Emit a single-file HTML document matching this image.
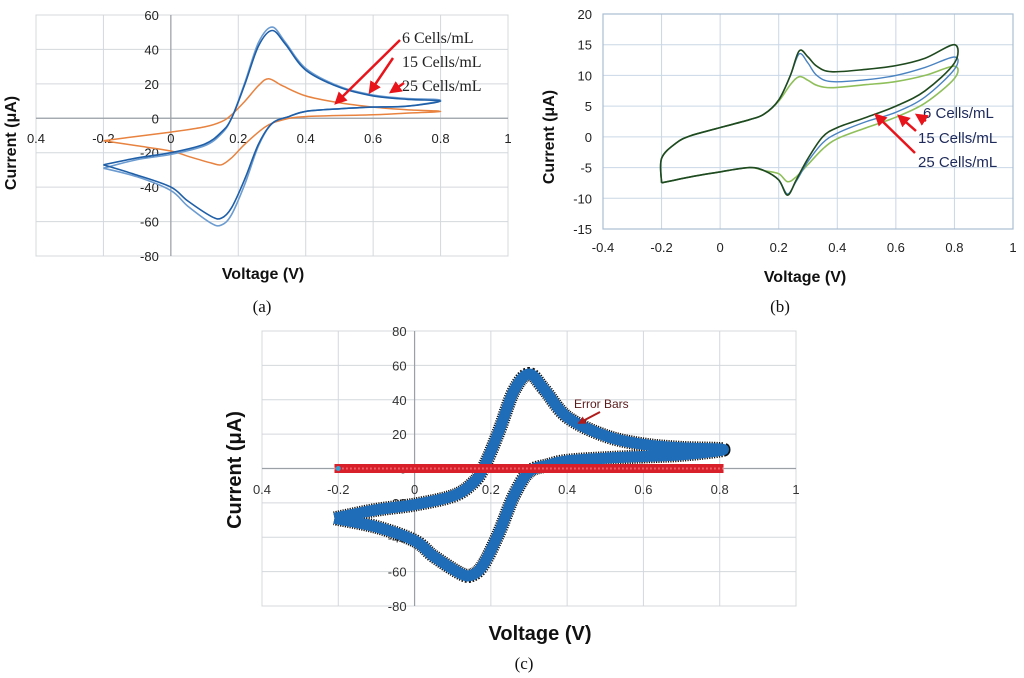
<!DOCTYPE html>
<html><head><meta charset="utf-8">
<style>
html,body{margin:0;padding:0;background:#fff;}
svg{display:block;}
text{font-family:"Liberation Sans",sans-serif;}
text.serif{font-family:"Liberation Serif",serif;}
</style></head>
<body>
<svg id="fig" width="1024" height="678" viewBox="0 0 1024 678" xmlns="http://www.w3.org/2000/svg">
<defs>
<marker id="arr" viewBox="0 0 10 10" refX="8" refY="5" markerWidth="5" markerHeight="5" orient="auto"><path d="M0,0 L10,5 L0,10 z" fill="#e8141c"/></marker>
<marker id="arr2" viewBox="0 0 10 10" refX="8" refY="5" markerWidth="4" markerHeight="4" orient="auto"><path d="M0,0 L10,5 L0,10 z" fill="#b01c1c"/></marker>
</defs>
</svg>
<script>
// ---------- Panel A data ----------
const aXTicks = [-0.4,-0.2,0,0.2,0.4,0.6,0.8,1];
const aXTickLabels = ["0.4","-0.2","0","0.2","0.4","0.6","0.8","1"];
const aYTicks = [60,40,20,0,-20,-40,-60,-80];
const a6V = [-0.2,-0.1,0,0.1,0.15,0.18,0.22,0.26,0.3,0.34,0.4,0.5,0.6,0.7,0.8,0.7,0.6,0.5,0.4,0.35,0.3,0.26,0.22,0.18,0.15,0.12,0.05,0,-0.1,-0.2];
const a6I = [-27,-23,-20,-15,-8,0,20,42,51,43,28,18,13,11,10,7,6.5,5.5,4,1,-3,-15,-35,-52,-58,-57,-48,-40,-33,-27];
const a15V = a6V;
const a15I = [-29,-24,-21,-16,-9,0,21,44,53,44,29,18.5,13.5,11.5,10.5,7,6.5,5.5,4,1,-3,-16,-38,-56,-62,-61,-51,-42,-34,-29];
const a25V = [-0.2,-0.1,0,0.1,0.15,0.18,0.22,0.26,0.29,0.33,0.4,0.5,0.6,0.7,0.8,0.7,0.6,0.4,0.33,0.28,0.22,0.18,0.15,0.12,0.05,0,-0.1,-0.2];
const a25I = [-13,-10.5,-8,-5,-2,2,10,19,23,19,13,9,6.5,5,4,3,2,1,-1,-5,-15,-23,-27,-26,-22,-19,-16,-13];

// ---------- Panel B data ----------
const bXTicks = [-0.4,-0.2,0,0.2,0.4,0.6,0.8,1];
const bYTicks = [20,15,10,5,0,-5,-10,-15];
const bV = [-0.2,-0.2,-0.15,-0.1,0,0.1,0.15,0.2,0.24,0.27,0.3,0.33,0.38,0.5,0.6,0.7,0.8,0.8,0.7,0.6,0.5,0.4,0.35,0.3,0.26,0.23,0.2,0.15,0.1,0,-0.1,-0.2];
const b6I = [-7.5,-3.5,-1,0.2,1.5,2.8,3.7,6,10,14,13,11.5,10.6,11,11.6,12.8,15,12,7.5,5,3.2,1.5,0,-3.5,-7,-9.5,-7,-5.5,-5,-5.7,-6.5,-7.5];
const b15I = [-7.5,-3.5,-1,0.2,1.5,2.8,3.7,6,10,13.5,12,10,9,9.3,10,11.3,13,11,6.5,4,2.5,0.6,-1,-4,-7.2,-9.3,-7,-5.5,-5,-5.7,-6.5,-7.5];
const b25I = [-7.5,-3.5,-1,0.2,1.5,2.8,3.7,5.8,8.5,9.8,9.2,8.4,8,8.5,9,10,11.5,9.5,5.5,3.2,1.5,-0.3,-2,-4.5,-6.5,-7.3,-6,-5.5,-5,-5.7,-6.5,-7.5];

// ---------- Panel C data ----------
const cXTicks = [-0.4,-0.2,0,0.2,0.4,0.6,0.8,1];
const cXTickLabels = ["0.4","-0.2","0","0.2","0.4","0.6","0.8","1"];
const cYTicks = [80,60,40,20,0,-20,-40,-60,-80];
const cV = [-0.21,-0.1,0,0.1,0.15,0.18,0.22,0.26,0.3,0.34,0.4,0.5,0.6,0.7,0.81,0.7,0.6,0.5,0.4,0.35,0.3,0.26,0.22,0.18,0.15,0.12,0.05,0,-0.1,-0.21];
const cI = [-29,-24,-21,-16,-9,0,21,45,55,46,30,19,14,12,11,8,7,6,4.5,2,-2,-16,-38,-56,-62,-61,-51,-42,-34,-29];
const cErrV = [-0.21,0.81];
const cErrI = [0,0];

const NS="http://www.w3.org/2000/svg";
const svg=document.getElementById('fig');
function mk(tag,attrs,parent){const e=document.createElementNS(NS,tag);for(const k in attrs)e.setAttribute(k,attrs[k]);(parent||svg).appendChild(e);return e;}
function smooth(pts){let d="M"+pts[0][0].toFixed(1)+","+pts[0][1].toFixed(1);
 for(let i=0;i<pts.length-1;i++){const p0=pts[Math.max(i-1,0)],p1=pts[i],p2=pts[i+1],p3=pts[Math.min(i+2,pts.length-1)];
  const c1=[p1[0]+(p2[0]-p0[0])/6,p1[1]+(p2[1]-p0[1])/6],c2=[p2[0]-(p3[0]-p1[0])/6,p2[1]-(p3[1]-p1[1])/6];
  d+=" C"+c1[0].toFixed(1)+","+c1[1].toFixed(1)+" "+c2[0].toFixed(1)+","+c2[1].toFixed(1)+" "+p2[0].toFixed(1)+","+p2[1].toFixed(1);}
 return d;}
function axis(x0,x1,y0,y1,vmin,vmax,imin,imax){return{x:v=>x0+(v-vmin)/(vmax-vmin)*(x1-x0),y:i=>y0+(imax-i)/(imax-imin)*(y1-y0)};}
function curve(g,ax,V,I,attrs,name){const p=mk('path',Object.assign({d:smooth(V.map((v,k)=>[ax.x(v),ax.y(I[k])])),fill:'none'},attrs),g);
 
 return p;}
function txt(g,x,y,s,attrs,name){const t=mk('text',Object.assign({x:x,y:y},attrs),g);t.textContent=s;
 
 return t;}

// ===== Panel A =====
(function(){
 const g=mk('g',{});
 
 
 const ax=axis(36,508,15,256,-0.4,1,-80,60);
 mk('rect',{x:36,y:15,width:472,height:241,fill:'none',stroke:'#d4d8dc','stroke-width':1},g);
 aXTicks.forEach(v=>mk('line',{x1:ax.x(v),x2:ax.x(v),y1:15,y2:256,stroke:'#d4d8dc'},g));
 aYTicks.forEach(i=>mk('line',{x1:36,x2:508,y1:ax.y(i),y2:ax.y(i),stroke:'#d4d8dc'},g));
 mk('line',{x1:ax.x(0),x2:ax.x(0),y1:15,y2:256,stroke:'#9aa0a6','stroke-width':1.2},g);
 mk('line',{x1:36,x2:508,y1:ax.y(0),y2:ax.y(0),stroke:'#9aa0a6','stroke-width':1.2},g);
 aXTicks.forEach((v,k)=>txt(g,ax.x(v),143,aXTickLabels[k],{'font-size':13,'text-anchor':'middle',fill:'#222'},'x-tick-label'));
 aYTicks.forEach(i=>txt(g,ax.x(0)-12,ax.y(i)+5,String(i),{'font-size':13,'text-anchor':'end',fill:'#222'},'y-tick-label'));
 curve(g,ax,a25V,a25I,{stroke:'#e8823f','stroke-width':1.5},'series-orange');
 curve(g,ax,a15V,a15I,{stroke:'#6b9bd0','stroke-width':1.6},'series-light-blue');
 curve(g,ax,a6V,a6I,{stroke:'#1f5fa8','stroke-width':1.6},'series-dark-blue');
 txt(g,16,143,'Current (\u03bcA)',{'font-size':16,'font-weight':'bold','text-anchor':'middle',transform:'rotate(-90 16 143)',fill:'#111'},'y-axis-title');
 txt(g,263,279,'Voltage (V)',{'font-size':16,'font-weight':'bold','text-anchor':'middle',fill:'#111'},'x-axis-title');
 txt(g,262,312,'(a)',{'font-size':17,'text-anchor':'middle','class':'serif',fill:'#111'},'panel-label-a');
 const lab={'font-size':16,'class':'serif',fill:'#222'};
 txt(g,402,43,'6  Cells/mL',lab,'annotation-6-cells');
 txt(g,402,67,'15 Cells/mL',lab,'annotation-15-cells');
 txt(g,402,91,'25 Cells/mL',lab,'annotation-25-cells');
 [[400,40,336,103],[393,58,370,92],[404,83,391,92]].forEach(a=>{const l=mk('line',{x1:a[0],y1:a[1],x2:a[2],y2:a[3],stroke:'#e8141c','stroke-width':2.5,'marker-end':'url(#arr)'},g);
  
  });
})();

// ===== Panel B =====
(function(){
 const g=mk('g',{});
 
 
 const ax=axis(603,1013,14,229,-0.4,1,-15,20);
 bXTicks.forEach(v=>mk('line',{x1:ax.x(v),x2:ax.x(v),y1:14,y2:229,stroke:'#c9d7e6'},g));
 bYTicks.forEach(i=>mk('line',{x1:603,x2:1013,y1:ax.y(i),y2:ax.y(i),stroke:'#c9d7e6'},g));
 mk('rect',{x:603,y:14,width:410,height:215,fill:'none',stroke:'#a9bdd3','stroke-width':1.2},g);
 bXTicks.forEach(v=>txt(g,ax.x(v),252,String(v),{'font-size':13,'text-anchor':'middle',fill:'#222'},'x-tick-label'));
 bYTicks.forEach(i=>txt(g,592,ax.y(i)+5,String(i),{'font-size':13,'text-anchor':'end',fill:'#222'},'y-tick-label'));
 curve(g,ax,bV,b25I,{stroke:'#8fbf5a','stroke-width':1.6},'series-light-green');
 curve(g,ax,bV,b15I,{stroke:'#4a83c2','stroke-width':1.4},'series-blue');
 curve(g,ax,bV,b6I,{stroke:'#1f4a1f','stroke-width':1.6},'series-dark-green');
 txt(g,554,137,'Current (\u03bcA)',{'font-size':16,'font-weight':'bold','text-anchor':'middle',transform:'rotate(-90 554 137)',fill:'#111'},'y-axis-title');
 txt(g,805,282,'Voltage (V)',{'font-size':16,'font-weight':'bold','text-anchor':'middle',fill:'#111'},'x-axis-title');
 txt(g,780,312,'(b)',{'font-size':17,'text-anchor':'middle','class':'serif',fill:'#111'},'panel-label-b');
 const lab={'font-size':15,fill:'#1e2a5a'};
 txt(g,923,118,'6 Cells/mL',lab,'annotation-6-cells');
 txt(g,918,143,'15 Cells/mL',lab,'annotation-15-cells');
 txt(g,918,167,'25 Cells/mL',lab,'annotation-25-cells');
 [[915,153,876,115],[916,131,899,116],[926,121,917,115]].forEach(a=>{const l=mk('line',{x1:a[0],y1:a[1],x2:a[2],y2:a[3],stroke:'#e8141c','stroke-width':2.5,'marker-end':'url(#arr)'},g);
  
  });
})();

// ===== Panel C =====
(function(){
 const g=mk('g',{});
 
 
 const ax=axis(262,796,331,606,-0.4,1,-80,80);
 mk('rect',{x:262,y:331,width:534,height:275,fill:'none',stroke:'#d4d8dc'},g);
 cXTicks.forEach(v=>mk('line',{x1:ax.x(v),x2:ax.x(v),y1:331,y2:606,stroke:'#d4d8dc'},g));
 cYTicks.forEach(i=>mk('line',{x1:262,x2:796,y1:ax.y(i),y2:ax.y(i),stroke:'#d4d8dc'},g));
 mk('line',{x1:ax.x(0),x2:ax.x(0),y1:331,y2:606,stroke:'#9aa0a6','stroke-width':1.2},g);
 mk('line',{x1:262,x2:796,y1:ax.y(0),y2:ax.y(0),stroke:'#9aa0a6','stroke-width':1.2},g);
 cXTicks.forEach((v,k)=>txt(g,ax.x(v),494,cXTickLabels[k],{'font-size':13,'text-anchor':'middle',fill:'#333'},'x-tick-label'));
 cYTicks.forEach(i=>txt(g,ax.x(0)-8,ax.y(i)+5,String(i),{'font-size':13,'text-anchor':'end',fill:'#333'},'y-tick-label'));
 curve(g,ax,cV,cI,{stroke:'#111','stroke-width':14,'stroke-dasharray':'1.2 1.2','stroke-linejoin':'round'},'error-bars');
 curve(g,ax,cV,cI,{stroke:'#1f6db8','stroke-width':11,'stroke-linejoin':'round'},'series-mean-cv');
 const e=mk('line',{x1:ax.x(cErrV[0]),x2:ax.x(cErrV[1]),y1:ax.y(cErrI[0]),y2:ax.y(cErrI[1]),stroke:'#d8202a','stroke-width':9},g);
 
 
 mk('line',{x1:ax.x(cErrV[0]),x2:ax.x(cErrV[1]),y1:ax.y(0),y2:ax.y(0),stroke:'#ff9aa0','stroke-width':2,'stroke-dasharray':'1 3'},g);
 mk('circle',{cx:ax.x(-0.2),cy:ax.y(0),r:2.5,fill:'#3aa0d0'},g);
 txt(g,241,470,'Current (\u03bcA)',{'font-size':20,'font-weight':'bold','text-anchor':'middle',transform:'rotate(-90 241 470)',fill:'#111'},'y-axis-title');
 txt(g,540,640,'Voltage (V)',{'font-size':20,'font-weight':'bold','text-anchor':'middle',fill:'#111'},'x-axis-title');
 txt(g,524,669,'(c)',{'font-size':17,'text-anchor':'middle','class':'serif',fill:'#111'},'panel-label-c');
 txt(g,574,408,'Error Bars',{'font-size':12,fill:'#5a1a1a'},'annotation-error-bars');
 const l=mk('line',{x1:600,y1:412,x2:579,y2:423,stroke:'#b01c1c','stroke-width':2,'marker-end':'url(#arr2)'},g);
 
 
})();
</script>
</body></html>
